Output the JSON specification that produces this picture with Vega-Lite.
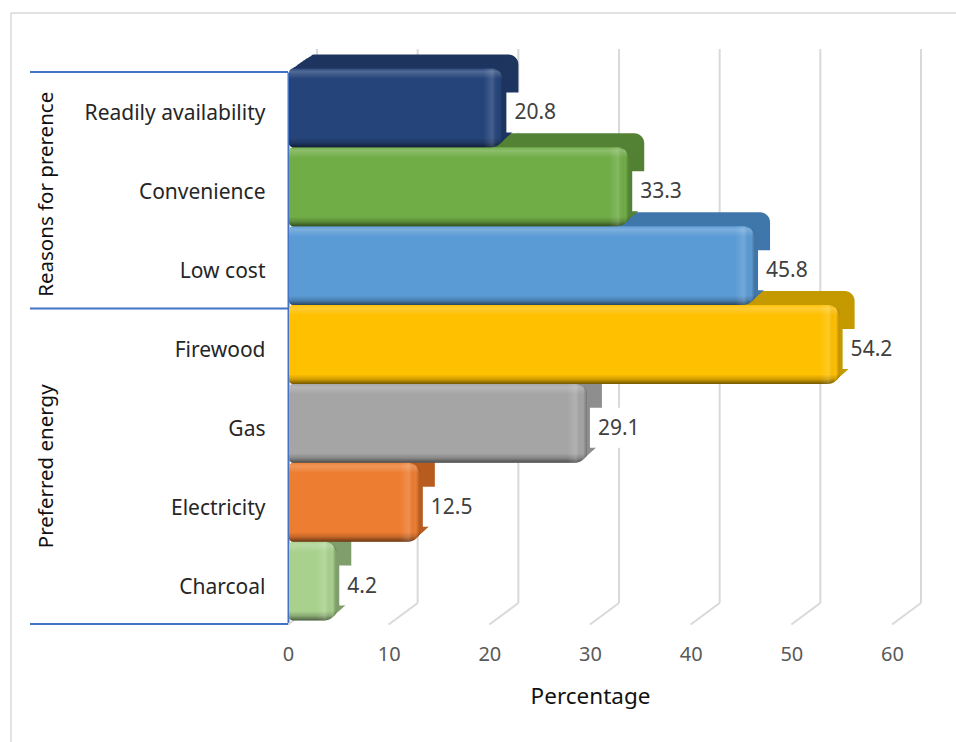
{
  "$schema": "https://vega.github.io/schema/vega-lite/v6.json",
  "width": 604,
  "height": 552,
  "autosize": "none",
  "padding": {"left": 288, "top": 72, "right": 64, "bottom": 118},
  "background": "white",
  "config": {"view": {"stroke": null}, "font": "Noto Sans"},
  "data": {
    "values": [
      {"item": "Charcoal", "value": 4.2},
      {"item": "Electricity", "value": 12.5},
      {"item": "Gas", "value": 29.1},
      {"item": "Firewood", "value": 54.2},
      {"item": "Low cost", "value": 45.8},
      {"item": "Convenience", "value": 33.3},
      {"item": "Readily availability", "value": 20.8}
    ]
  },
  "encoding": {
    "y": {
      "field": "item",
      "type": "nominal",
      "sort": ["Readily availability", "Convenience", "Low cost", "Firewood", "Gas", "Electricity", "Charcoal"],
      "scale": {"domain": ["Readily availability", "Convenience", "Low cost", "Firewood", "Gas", "Electricity", "Charcoal"], "paddingInner": 0, "paddingOuter": 0},
      "axis": {"title": null, "ticks": false, "domain": true, "domainColor": "#4472c4", "domainWidth": 2, "labelFontSize": 21, "labelColor": "#262626", "labelPadding": 23, "labelOffset": 3, "labelLimit": 300, "labelFont": "Noto Sans", "grid": false}
    },
    "x": {
      "field": "value",
      "type": "quantitative",
      "scale": {"domain": [0, 60], "nice": false},
      "axis": {"title": "Percentage", "values": [0, 10, 20, 30, 40, 50, 60], "grid": false, "ticks": false, "domain": false, "labelFlush": false, "labelFontSize": 20, "labelColor": "#595959", "labelPadding": 20, "titleFontSize": 22.5, "titleColor": "#111111", "titleFontWeight": "normal", "titlePadding": 21, "labelFont": "Noto Sans", "titleFont": "Noto Sans"}
    }
  },
  "resolve": {"scale": {"fill": "independent"}},
  "layer": [
    {
      "description": "Chart frame: top hairline",
      "data": {"values": [{"from": 0, "to": 60}]},
      "mark": {"type": "rule", "color": "#d9d9d9", "strokeWidth": 1.5, "xOffset": -277, "x2Offset": 64, "yOffset": -98.5, "y2Offset": -98.5},
      "encoding": {
        "x": {"field": "from", "type": "quantitative"},
        "x2": {"field": "to"},
        "y": {"datum": "Readily availability"},
        "y2": {"datum": "Readily availability"}
      }
    },
    {
      "description": "Chart frame: left hairline",
      "data": {"values": [{"from": 0}]},
      "mark": {"type": "rule", "color": "#d9d9d9", "strokeWidth": 1.5, "xOffset": -277, "x2Offset": -277, "yOffset": -98.5, "y2Offset": 158},
      "encoding": {
        "x": {"field": "from", "type": "quantitative"},
        "x2": {"field": "from"},
        "y": {"datum": "Readily availability"},
        "y2": {"datum": "Charcoal"}
      }
    },
    {
      "description": "Back wall gridlines",
      "data": {"values": [{"tick": 0}, {"tick": 10}, {"tick": 20}, {"tick": 30}, {"tick": 40}, {"tick": 50}, {"tick": 60}]},
      "mark": {"type": "rule", "color": "#d9d9d9", "strokeWidth": 2, "xOffset": 29, "x2Offset": 29, "yOffset": -62.4, "y2Offset": 18.4},
      "encoding": {
        "x": {"field": "tick", "type": "quantitative"},
        "x2": {"field": "tick"},
        "y": {"datum": "Readily availability"},
        "y2": {"datum": "Charcoal"}
      }
    },
    {
      "description": "Floor gridlines running back from each tick",
      "data": {"values": [{"tick": 0}, {"tick": 10}, {"tick": 20}, {"tick": 30}, {"tick": 40}, {"tick": 50}, {"tick": 60}]},
      "mark": {"type": "rule", "color": "#d9d9d9", "strokeWidth": 2, "xOffset": 0, "x2Offset": 29, "yOffset": 40, "y2Offset": 18.4},
      "encoding": {
        "x": {"field": "tick", "type": "quantitative"},
        "x2": {"field": "tick"},
        "y": {"datum": "Charcoal"},
        "y2": {"datum": "Charcoal"}
      }
    },
    {
      "description": "Extruded depth of each bar, deepest slice first",
      "encoding": {
        "x2": {"datum": 0},
        "fill": {
          "field": "item",
          "type": "nominal",
          "legend": null,
          "scale": {
            "domain": ["Readily availability", "Convenience", "Low cost", "Firewood", "Gas", "Electricity", "Charcoal"],
            "range": ["#1e3560", "#548235", "#3f77ab", "#c49a00", "#8e8e8e", "#b85c1f", "#7f9e6c"]
          }
        }
      },
      "layer": [
        {"mark": {"type": "rect", "cornerRadiusTopRight": 10, "cornerRadiusBottomRight": 12, "cornerRadiusTopLeft": 4, "cornerRadiusBottomLeft": 4, "xOffset": 21, "x2Offset": 22, "yOffset": -17.5}},
        {"mark": {"type": "rect", "cornerRadiusTopRight": 10, "cornerRadiusBottomRight": 12, "cornerRadiusTopLeft": 4, "cornerRadiusBottomLeft": 4, "xOffset": 19, "x2Offset": 19, "yOffset": -15.6}},
        {"mark": {"type": "rect", "cornerRadiusTopRight": 10, "cornerRadiusBottomRight": 12, "cornerRadiusTopLeft": 4, "cornerRadiusBottomLeft": 4, "xOffset": 17, "x2Offset": 16, "yOffset": -13.8}},
        {"mark": {"type": "rect", "cornerRadiusTopRight": 10, "cornerRadiusBottomRight": 12, "cornerRadiusTopLeft": 4, "cornerRadiusBottomLeft": 4, "xOffset": 15, "x2Offset": 13.5, "yOffset": -12}},
        {"mark": {"type": "rect", "cornerRadiusTopRight": 10, "cornerRadiusBottomRight": 12, "cornerRadiusTopLeft": 4, "cornerRadiusBottomLeft": 4, "xOffset": 13, "x2Offset": 11, "yOffset": -10.2}},
        {"mark": {"type": "rect", "cornerRadiusTopRight": 10, "cornerRadiusBottomRight": 12, "cornerRadiusTopLeft": 4, "cornerRadiusBottomLeft": 4, "xOffset": 11, "x2Offset": 8.5, "yOffset": -8.4}},
        {"mark": {"type": "rect", "cornerRadiusTopRight": 10, "cornerRadiusBottomRight": 12, "cornerRadiusTopLeft": 4, "cornerRadiusBottomLeft": 4, "xOffset": 9, "x2Offset": 6, "yOffset": -6.6}},
        {"mark": {"type": "rect", "cornerRadiusTopRight": 10, "cornerRadiusBottomRight": 12, "cornerRadiusTopLeft": 4, "cornerRadiusBottomLeft": 4, "xOffset": 7.5, "x2Offset": 3.5, "yOffset": -5}}
      ]
    },
    {
      "description": "Front face of each bar",
      "mark": {"type": "rect", "cornerRadiusTopRight": 12, "cornerRadiusBottomRight": 12, "cornerRadiusTopLeft": 4, "cornerRadiusBottomLeft": 4, "xOffset": 6, "x2Offset": 1, "yOffset": -3.5},
      "encoding": {
        "x2": {"datum": 0},
        "fill": {
          "field": "item",
          "type": "nominal",
          "legend": null,
          "scale": {
            "domain": ["Readily availability", "Convenience", "Low cost", "Firewood", "Gas", "Electricity", "Charcoal"],
            "range": ["#25447a", "#70ad47", "#5b9bd5", "#ffc000", "#a5a5a5", "#ed7d31", "#a9d18e"]
          }
        }
      }
    },
    {
      "description": "Top bevel highlight and bottom bevel shadow",
      "mark": {
        "type": "rect",
        "cornerRadiusTopRight": 12,
        "cornerRadiusBottomRight": 12,
        "cornerRadiusTopLeft": 4,
        "cornerRadiusBottomLeft": 4,
        "xOffset": 6,
        "x2Offset": 1,
        "yOffset": -3.5,
        "fill": {
          "gradient": "linear",
          "x1": 0, "y1": 0, "x2": 0, "y2": 1,
          "stops": [
            {"offset": 0, "color": "rgba(255,255,255,0.03)"},
            {"offset": 0.04, "color": "rgba(255,255,255,0.2)"},
            {"offset": 0.13, "color": "rgba(255,255,255,0)"},
            {"offset": 0.88, "color": "rgba(0,0,0,0)"},
            {"offset": 0.94, "color": "rgba(0,0,0,0.18)"},
            {"offset": 1, "color": "rgba(0,0,0,0.55)"}
          ]
        }
      },
      "encoding": {"x2": {"datum": 0}}
    },
    {
      "description": "Right-hand bevel at the end of each bar",
      "mark": {
        "type": "rect",
        "cornerRadiusTopRight": 12,
        "cornerRadiusBottomRight": 12,
        "xOffset": 6,
        "x2Offset": -14,
        "yOffset": -3.5,
        "fill": {
          "gradient": "linear",
          "x1": 1, "y1": 0, "x2": 0, "y2": 0,
          "stops": [
            {"offset": 0, "color": "rgba(0,0,0,0.28)"},
            {"offset": 0.2, "color": "rgba(0,0,0,0)"},
            {"offset": 0.55, "color": "rgba(255,255,255,0.14)"},
            {"offset": 1, "color": "rgba(255,255,255,0)"}
          ]
        }
      },
      "encoding": {"x2": {"field": "value"}}
    },
    {
      "description": "White plate behind each value label",
      "mark": {"type": "rect", "fill": "white", "xOffset": 9, "x2Offset": 60, "height": 40, "yOffset": 1},
      "encoding": {"x2": {"field": "value"}}
    },
    {
      "description": "Value labels",
      "mark": {"type": "text", "align": "left", "baseline": "middle", "xOffset": 17, "yOffset": 2, "fontSize": 21, "color": "#404040"},
      "encoding": {"text": {"field": "value", "type": "quantitative", "format": ".1f"}}
    },
    {
      "description": "Top edges of the two category groups on the axis",
      "data": {"values": [{"start": "Readily availability", "base": 0}, {"start": "Firewood", "base": 0}]},
      "mark": {"type": "rule", "color": "#4472c4", "strokeWidth": 2, "xOffset": -258, "x2Offset": 0},
      "encoding": {
        "x": {"field": "base", "type": "quantitative"},
        "x2": {"field": "base"},
        "y": {"field": "start", "type": "nominal", "bandPosition": 0}
      }
    },
    {
      "description": "Bottom edge of the lower category group",
      "data": {"values": [{"start": "Charcoal", "base": 0}]},
      "mark": {"type": "rule", "color": "#4472c4", "strokeWidth": 2, "xOffset": -258, "x2Offset": 0},
      "encoding": {
        "x": {"field": "base", "type": "quantitative"},
        "x2": {"field": "base"},
        "y": {"field": "start", "type": "nominal", "bandPosition": 1}
      }
    },
    {
      "description": "Outer label of the upper group",
      "data": {"values": [{"group": "Reasons for prerence", "centre": "Convenience", "base": 0}]},
      "mark": {"type": "text", "angle": 270, "align": "center", "baseline": "middle", "xOffset": -241, "yOffset": 4, "fontSize": 20.5, "color": "#111111"},
      "encoding": {
        "x": {"field": "base", "type": "quantitative"},
        "y": {"field": "centre", "type": "nominal", "bandPosition": 0.5},
        "text": {"field": "group"}
      }
    },
    {
      "description": "Outer label of the lower group",
      "data": {"values": [{"group": "Preferred energy", "centre": "Gas", "base": 0}]},
      "mark": {"type": "text", "angle": 270, "align": "center", "baseline": "middle", "xOffset": -241, "fontSize": 20.5, "color": "#111111"},
      "encoding": {
        "x": {"field": "base", "type": "quantitative"},
        "y": {"field": "centre", "type": "nominal", "bandPosition": 1},
        "text": {"field": "group"}
      }
    }
  ]
}
